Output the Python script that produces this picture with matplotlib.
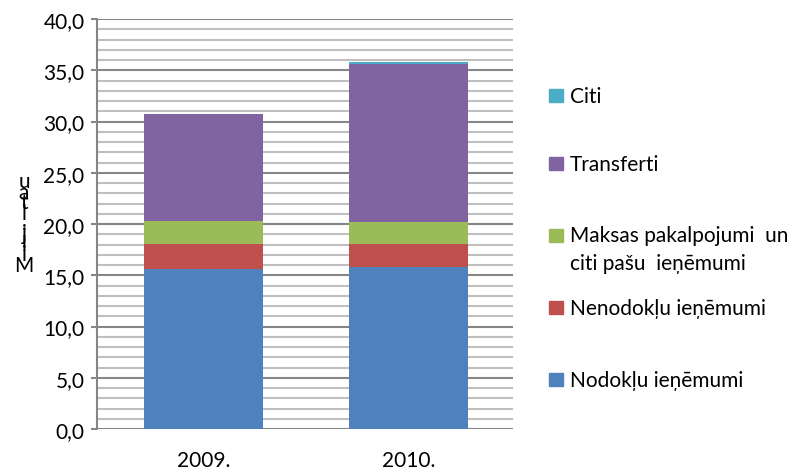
import matplotlib
matplotlib.use("Agg")
import matplotlib.pyplot as plt
from matplotlib.patches import Rectangle
from matplotlib.ticker import MultipleLocator, FuncFormatter

plt.rcParams['font.family'] = ['Lato', 'DejaVu Sans']

# data (milj. Ls)
years = ['2009.', '2010.']
nodoklu = [15.6, 15.8]
nenodoklu = [2.45, 2.25]
maksas = [2.25, 2.1]
transferti = [10.45, 15.45]
citi = [0.02, 0.22]

series = [nodoklu, nenodoklu, maksas, transferti, citi]
labels = ['Nodokļu ieņēmumi', 'Nenodokļu ieņēmumi',
          'Maksas pakalpojumi  un\nciti pašu  ieņēmumi', 'Transferti', 'Citi']
colors = ['#4F81BD', '#C0504D', '#9BBB59', '#8064A2', '#4BACC6']

FS = 15
W, H = 799, 477
fig = plt.figure(figsize=(W / 100, H / 100), dpi=100)
ax = fig.add_axes([97 / W, 47 / H, 416 / W, 410 / H])

x = range(len(years))
bottom = [0.0] * len(years)
for vals, col in zip(series, colors):
    ax.bar(x, vals, width=0.58, bottom=bottom, color=col, zorder=3)
    bottom = [b + v for b, v in zip(bottom, vals)]

ax.set_xlim(-0.52, 1.51)
ax.set_ylim(0, 40)
ax.yaxis.set_major_locator(MultipleLocator(5))
ax.yaxis.set_minor_locator(MultipleLocator(1))
ax.yaxis.set_major_formatter(FuncFormatter(lambda v, p: f"{v:.1f}".replace('.', ',')))
ax.set_xticks(list(x))
ax.set_xticklabels(years)

ax.grid(axis='y', which='major', color='#868686', linewidth=1.5, zorder=1)
ax.grid(axis='y', which='minor', color='#BFBFBF', linewidth=1.5, zorder=1)
for s in ['top', 'right', 'bottom']:
    ax.spines[s].set_visible(False)
ax.spines['left'].set_color('#868686')
ax.spines['left'].set_linewidth(1.5)
ax.tick_params(axis='y', which='major', length=4, width=1.5, color='#868686',
               labelsize=FS, pad=5)
ax.tick_params(axis='y', which='minor', length=0)
ax.tick_params(axis='x', length=0, labelsize=FS, pad=15)

# garbled stacked y label as in the source
fig.text(24 / W, 1 - 224 / H, "u\na\nt\nl\n.\nj\nl\ni\nM", ha='center', va='center',
         fontsize=FS, linespacing=0.4)

# legend drawn by hand (top to bottom)
leg_y = [97, 165, 237, 309, 381]
for yy, lab, col in zip(leg_y, labels[::-1], colors[::-1]):
    fig.patches.append(Rectangle((549 / W, 1 - (yy + 6) / H), 14 / W, 13 / H,
                                 transform=fig.transFigure, color=col))
    if '\n' in lab:
        fig.text(570 / W, 1 - (yy - 11) / H, lab, ha='left', va='top',
                 fontsize=FS, linespacing=1.5)
    else:
        fig.text(570 / W, 1 - yy / H, lab, ha='left', va='center', fontsize=FS)

fig.savefig("out.png", dpi=100)
